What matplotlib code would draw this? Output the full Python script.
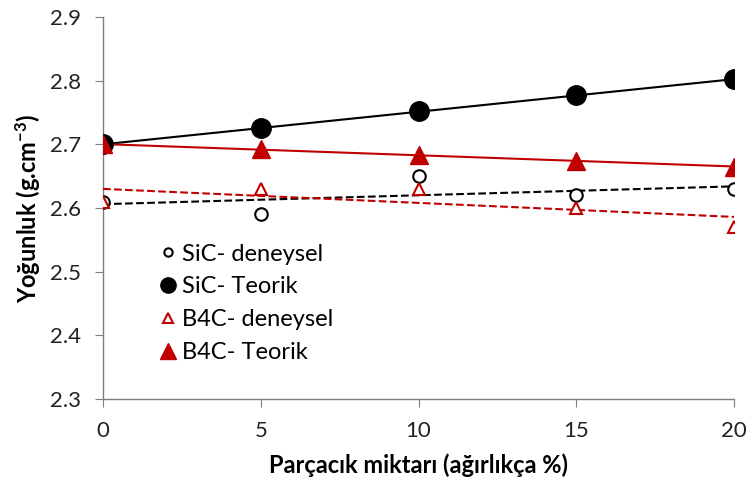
import matplotlib
matplotlib.use("Agg")
import matplotlib.pyplot as plt
import numpy as np

plt.rcParams["font.family"] = ["Lato", "DejaVu Sans"]
plt.rcParams["mathtext.default"] = "regular"

x = [0, 5, 10, 15, 20]
sic_exp = [2.61, 2.59, 2.65, 2.62, 2.63]
sic_theo = [2.70, 2.725, 2.752, 2.777, 2.802]
b4c_exp = [2.61, 2.63, 2.63, 2.60, 2.57]
b4c_theo = [2.70, 2.692, 2.683, 2.674, 2.665]

red = "#C00000"
xs = np.array(x, dtype=float)

fig = plt.figure(figsize=(7.49, 4.93), dpi=100)
ax = fig.add_axes([0.1375, 0.1907, 0.8425, 0.7748])

# linear trend lines
for vals, color, ls in [(sic_theo, "black", "-"), (b4c_theo, red, "-"),
                        (sic_exp, "black", "--"), (b4c_exp, red, "--")]:
    k, b = np.polyfit(xs, vals, 1)
    ax.plot(xs, k * xs + b, color=color, linestyle=ls, linewidth=1.5, zorder=2)

ax.plot(x, sic_exp, "o", ms=9, mfc="white", mec="black", mew=1.5, ls="none", label="SiC- deneysel", zorder=3)
ax.plot(x, sic_theo, "o", ms=14, mfc="black", mec="black", ls="none", label="SiC- Teorik", zorder=3)
ax.plot(x, b4c_exp, "^", ms=8, mfc="white", mec=red, mew=1.5, ls="none", label="B4C- deneysel", zorder=4)
ax.plot(x, b4c_theo, "^", ms=13, mfc=red, mec=red, ls="none", label="B4C- Teorik", zorder=4)

ax.set_xlim(0, 20)
ax.set_ylim(2.3, 2.9)
ax.set_xticks([0, 5, 10, 15, 20])
ax.set_yticks(np.arange(2.3, 2.91, 0.1))
ax.set_yticklabels(["2.3", "2.4", "2.5", "2.6", "2.7", "2.8", "2.9"])

for side in ["top", "right"]:
    ax.spines[side].set_visible(False)
for side in ["left", "bottom"]:
    ax.spines[side].set_color("#7f7f7f")
    ax.spines[side].set_linewidth(1.0)
ax.spines["left"].set_zorder(1)
ax.tick_params(axis="both", direction="out", length=6, color="#7f7f7f", labelsize=16, labelcolor="#222222")
ax.tick_params(axis="x", pad=10)
ax.tick_params(axis="y", pad=10)

ax.set_xlabel("Parçacık miktarı (ağırlıkça %)", fontsize=17, fontweight="bold", labelpad=9)
ax.set_ylabel("Yoğunluk (g.cm$^{-3}$)", fontsize=17, fontweight="bold", labelpad=5)

leg = ax.legend(loc="upper left", bbox_to_anchor=(0.06, 0.45), frameon=False, fontsize=17,
                handletextpad=0.15, labelspacing=0.5, handlelength=0.9, borderpad=0.2)
for h, ms in zip(leg.legend_handles, [6, 11, 6.5, 11]):
    h.set_markersize(ms)

fig.savefig("out.png", dpi=100)
